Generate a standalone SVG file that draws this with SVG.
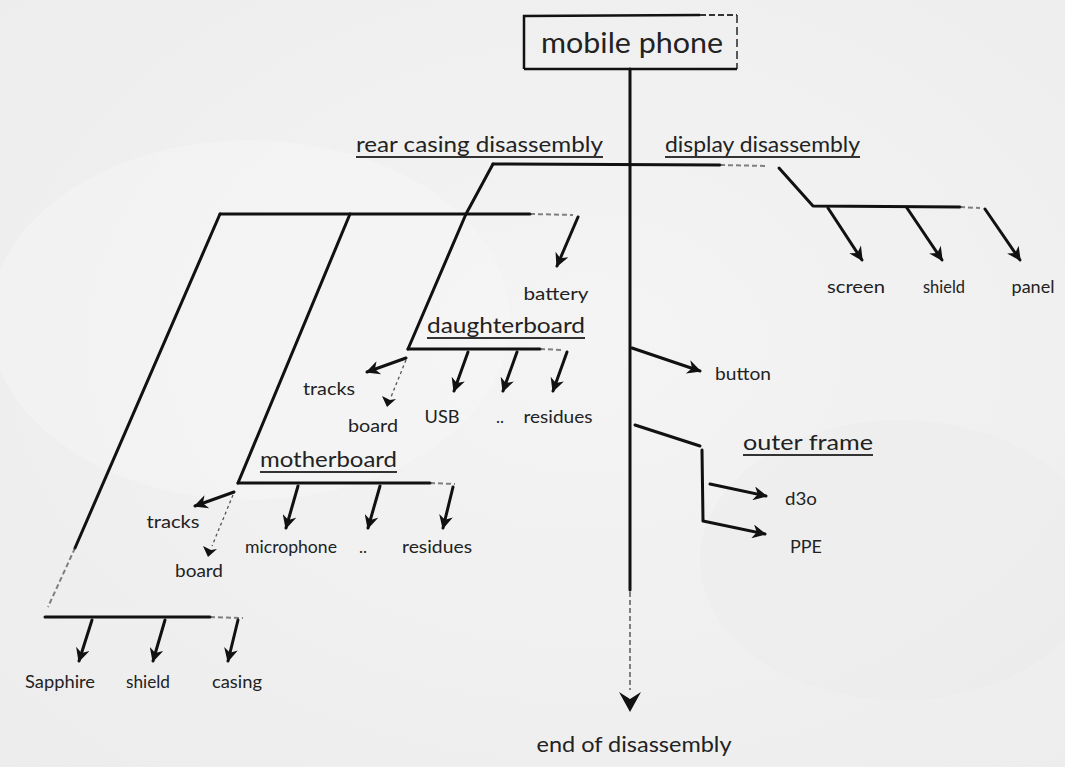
<svg xmlns="http://www.w3.org/2000/svg" width="1065" height="767" viewBox="0 0 1065 767">
<defs>
<radialGradient id="paper" cx="0.55" cy="0.45" r="0.8">
<stop offset="0" stop-color="#f4f4f4"/>
<stop offset="1" stop-color="#ececec"/>
</radialGradient>
<marker id="ah" viewBox="0 0 10 10" refX="9" refY="5" markerWidth="16" markerHeight="14" markerUnits="userSpaceOnUse" orient="auto">
<path d="M0,0 L10,5 L0,10 L3,5 Z" fill="#111"/>
</marker>
<style>
.ln{stroke:#111;stroke-width:3;fill:none;stroke-linecap:round;stroke-linejoin:round}
.fd{stroke:#333;stroke-width:2;fill:none;stroke-dasharray:5 3;opacity:.6}
.dt{stroke:#555;stroke-width:1.3;fill:none;stroke-dasharray:3 3}
.ar{stroke:#111;stroke-width:3;fill:none;stroke-linecap:round;marker-end:url(#ah)}
.t{font-family:Lato,"Open Sans","DejaVu Sans",sans-serif;fill:#222}
.s{font-size:17px}
.h{font-size:21px}
.ul{stroke:#333;stroke-width:1.8}
</style>
</defs>
<rect width="1065" height="767" fill="url(#paper)"/>
<ellipse cx="250" cy="320" rx="260" ry="180" fill="#f8f8f8" opacity="0.35"/>
<ellipse cx="900" cy="560" rx="200" ry="140" fill="#e6e6e6" opacity="0.25"/>

<g id="connectors">
<path class="ln" d="M630,69 L630,590"/>
<path class="fd" d="M630,592 L630,690" stroke-width="2.5"/>
<path d="M619,692 L630,712 L641,692 L630,699 Z" fill="#111"/>
<path class="ln" d="M493,164 L720,165"/>
<path class="fd" d="M720,165 L767,166"/>
<path class="ln" d="M779,168 L813,206 L960,207"/>
<path class="fd" d="M960,207 L980,208"/>
<path class="ar" d="M828,208 L862,260"/>
<path class="ar" d="M907,208 L942,260"/>
<path class="ar" d="M985,209 L1020,260"/>
<path class="ln" d="M493,164 L466,214 L408,349"/>
<path class="ln" d="M220,214 L530,214"/>
<path class="fd" d="M530,214 L573,215"/>
<path class="ar" d="M578,217 L557,266"/>
<path class="ln" d="M220,214 L75,548"/>
<path class="fd" d="M75,548 L48,607"/>
<path class="ln" d="M45,617 L210,617"/>
<path class="fd" d="M210,617 L243,618"/>
<path class="ar" d="M92,620 L79,661"/>
<path class="ar" d="M165,620 L153,661"/>
<path class="ar" d="M238,620 L228,661"/>
<path class="ln" d="M350,214 L238,483"/>
<path class="ln" d="M238,483 L430,483"/>
<path class="fd" d="M430,483 L455,484"/>
<path class="ar" d="M298,486 L286,528"/>
<path class="ar" d="M380,486 L368,528"/>
<path class="ar" d="M453,487 L443,528"/>
<path class="ar" d="M234,492 L195,506"/>
<path class="dt" d="M233,495 L212,546"/>
<path d="M203,546 L208,557 L217,549 L211,550 Z" fill="#111"/>
<path class="ln" d="M408,349 L540,349"/>
<path class="fd" d="M540,349 L562,350"/>
<path class="ar" d="M468,352 L454,391"/>
<path class="ar" d="M517,352 L503,391"/>
<path class="ar" d="M567,352 L553,391"/>
<path class="ar" d="M406,358 L367,372"/>
<path class="dt" d="M406,360 L391,397"/>
<path d="M382,396 L387,407 L396,399 L390,400 Z" fill="#111"/>
<path class="ar" d="M632,348 L700,371"/>
<path class="ln" d="M635,425 L700,446"/>
<path class="ln" d="M702,450 L703,520"/>
<path class="ar" d="M703,521 L765,534"/>
<path class="ar" d="M710,484 L766,496"/>
</g>

<g id="node-mobile-phone">
<path d="M524,69 L524,16 L700,15" stroke="#111" stroke-width="2.5" fill="none"/>
<path d="M700,15 L737,15" stroke="#333" stroke-width="2" stroke-dasharray="6 3" fill="none"/>
<path d="M737,15 L737,69" stroke="#333" stroke-width="1.6" stroke-dasharray="8 4" fill="none"/>
<path d="M524,69 L737,69" stroke="#111" stroke-width="2.5" fill="none"/>
<text class="t" x="632" y="53" font-size="28" text-anchor="middle" textLength="182" lengthAdjust="spacingAndGlyphs">mobile phone</text>
</g>
<g id="node-rear-casing">
<text class="t h" x="356" y="152" textLength="247" lengthAdjust="spacingAndGlyphs">rear casing disassembly</text>
<line class="ul" x1="356" y1="157" x2="603" y2="157"/>
</g>
<g id="node-display">
<text class="t h" x="665" y="152" textLength="195" lengthAdjust="spacingAndGlyphs">display disassembly</text>
<line class="ul" x1="665" y1="157" x2="860" y2="157"/>
</g>
<g id="node-screen"><text class="t s" x="856" y="293" text-anchor="middle" textLength="58" lengthAdjust="spacingAndGlyphs">screen</text></g>
<g id="node-shield-display"><text class="t s" x="944" y="293" text-anchor="middle" textLength="42" lengthAdjust="spacingAndGlyphs">shield</text></g>
<g id="node-panel"><text class="t s" x="1033" y="293" text-anchor="middle" textLength="43" lengthAdjust="spacingAndGlyphs">panel</text></g>
<g id="node-battery"><text class="t s" x="556" y="300" text-anchor="middle" textLength="65" lengthAdjust="spacingAndGlyphs">battery</text></g>
<g id="node-daughterboard">
<text class="t h" x="427" y="333" textLength="158" lengthAdjust="spacingAndGlyphs">daughterboard</text>
<line class="ul" x1="427" y1="338" x2="585" y2="338"/>
</g>
<g id="node-tracks-d"><text class="t s" x="329" y="395" text-anchor="middle" textLength="52" lengthAdjust="spacingAndGlyphs">tracks</text></g>
<g id="node-board-d"><text class="t s" x="373" y="432" text-anchor="middle" textLength="50" lengthAdjust="spacingAndGlyphs">board</text></g>
<g id="node-usb"><text class="t s" x="442" y="423" text-anchor="middle" textLength="35" lengthAdjust="spacingAndGlyphs">USB</text></g>
<g id="node-dots-d"><text class="t s" x="500" y="423" text-anchor="middle">..</text></g>
<g id="node-residues-d"><text class="t s" x="558" y="423" text-anchor="middle" textLength="69" lengthAdjust="spacingAndGlyphs">residues</text></g>
<g id="node-button"><text class="t s" x="743" y="380" text-anchor="middle" textLength="56" lengthAdjust="spacingAndGlyphs">button</text></g>
<g id="node-outer-frame">
<text class="t h" x="743" y="450" textLength="130" lengthAdjust="spacingAndGlyphs">outer frame</text>
<line class="ul" x1="743" y1="455" x2="873" y2="455"/>
</g>
<g id="node-d3o"><text class="t s" x="801" y="505" text-anchor="middle" textLength="32" lengthAdjust="spacingAndGlyphs">d3o</text></g>
<g id="node-ppe"><text class="t s" x="806" y="553" text-anchor="middle" textLength="32" lengthAdjust="spacingAndGlyphs">PPE</text></g>
<g id="node-motherboard">
<text class="t h" x="260" y="467" textLength="137" lengthAdjust="spacingAndGlyphs">motherboard</text>
<line class="ul" x1="260" y1="472" x2="397" y2="472"/>
</g>
<g id="node-tracks-m"><text class="t s" x="173" y="528" text-anchor="middle" textLength="53" lengthAdjust="spacingAndGlyphs">tracks</text></g>
<g id="node-microphone"><text class="t s" x="291" y="553" text-anchor="middle" textLength="92" lengthAdjust="spacingAndGlyphs">microphone</text></g>
<g id="node-dots-m"><text class="t s" x="363" y="553" text-anchor="middle">..</text></g>
<g id="node-residues-m"><text class="t s" x="437" y="553" text-anchor="middle" textLength="70" lengthAdjust="spacingAndGlyphs">residues</text></g>
<g id="node-board-m"><text class="t s" x="199" y="577" text-anchor="middle" textLength="48" lengthAdjust="spacingAndGlyphs">board</text></g>
<g id="node-sapphire"><text class="t s" x="60" y="688" text-anchor="middle" textLength="70" lengthAdjust="spacingAndGlyphs">Sapphire</text></g>
<g id="node-shield-rear"><text class="t s" x="148" y="688" text-anchor="middle" textLength="44" lengthAdjust="spacingAndGlyphs">shield</text></g>
<g id="node-casing"><text class="t s" x="237" y="688" text-anchor="middle" textLength="50" lengthAdjust="spacingAndGlyphs">casing</text></g>
<g id="node-end"><text class="t" x="634" y="752" font-size="22" text-anchor="middle" textLength="195" lengthAdjust="spacingAndGlyphs">end of disassembly</text></g>
</svg>
